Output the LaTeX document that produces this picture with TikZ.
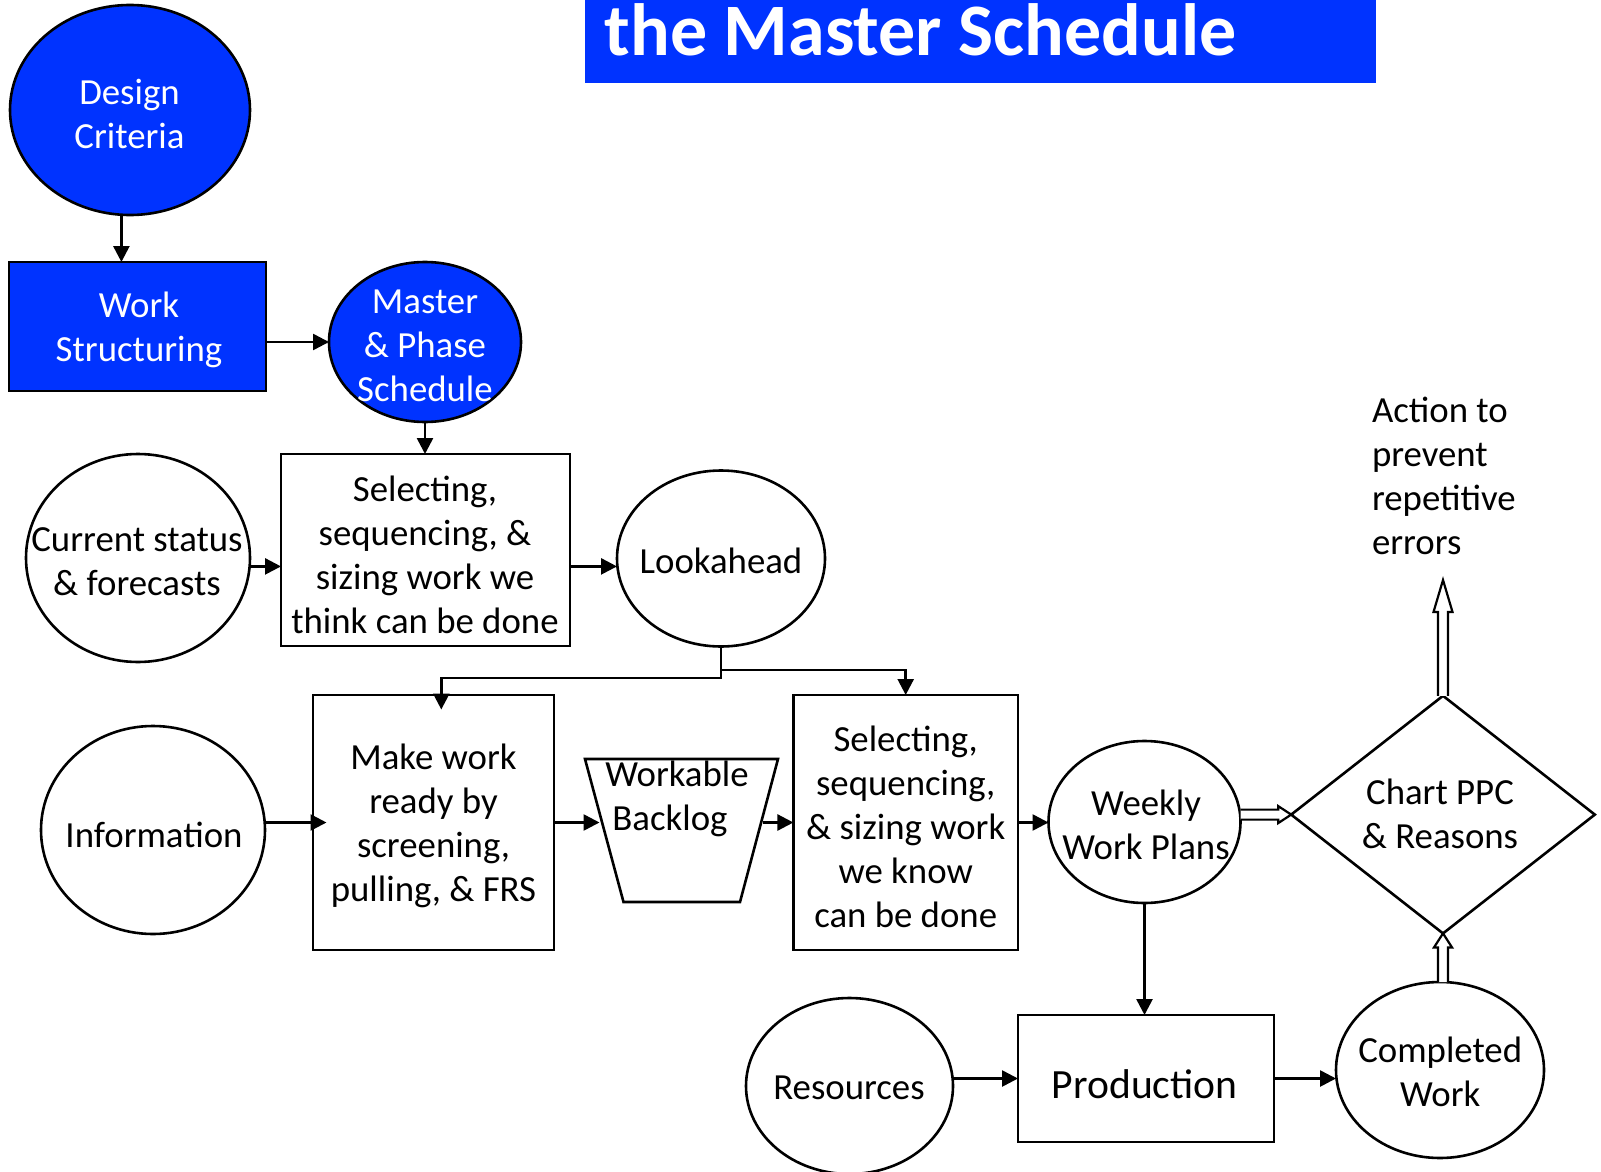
\documentclass[tikz,border=0pt]{standalone}
\usepackage{fontspec}
\setmainfont{Carlito}
\usetikzlibrary{shapes.geometric,arrows.meta,calc}
\definecolor{mblue}{RGB}{0,51,255}
\begin{document}
\begin{tikzpicture}[x=0.5pt,y=-0.5pt,
  every node/.style={inner sep=0pt, outer sep=0pt},
  shp/.style={draw=black, line width=1.3pt},
  ell/.style={shp, ellipse},
  box/.style={shp, rectangle},
  txt/.style={align=center, font=\fontsize{18.4}{22}\selectfont},
  arr/.style={line width=1.3pt, -{Triangle[length=8pt,width=8pt]}},
  hollow/.style={line width=1.1pt, fill=white, draw=black, line join=miter}
]
\useasboundingbox (0,0) rectangle (1601,1172);
% title
\fill[mblue] (585,-10) rectangle (1376,83);
\node[anchor=base west, text=white, font=\fontsize{37}{44}\selectfont\bfseries] (title) at (604.6,55.7) {the Master Schedule};
% nodes
\node[ell, fill=mblue, minimum width=120pt, minimum height=105pt] (design) at (130,110) {};
\node[txt, text=white] (designt) at (129.5,113.7) {Design\\Criteria};
\node[box, fill=mblue, minimum width=128.5pt, minimum height=64.5pt] (ws) at (137.5,326.5) {};
\node[txt, text=white] (wst) at (139,329.7) {Work\\Structuring};
\node[ell, fill=mblue, minimum width=96pt, minimum height=80pt] (master) at (425,342) {};
\node[txt, text=white] (mastert) at (425,346) {Master\\\& Phase\\Schedule};
\node[box, minimum width=144.5pt, minimum height=96pt] (box1) at (425.5,550) {};
\node[txt] (box1t) at (425,554.5) {Selecting,\\sequencing, \&\\sizing work we\\think can be done};
\node[ell, minimum width=112pt, minimum height=104pt] (cur) at (138,558) {};
\node[txt] (curt) at (137,561.5) {Current status\\\& forecasts};
\node[ell, minimum width=104pt, minimum height=88pt] (look) at (721,558.5) {};
\node[txt] (lookt) at (721,560.8) {Lookahead};
\node[box, minimum width=120.5pt, minimum height=127.5pt] (mw) at (433.5,822.5) {};
\node[txt] (mwt) at (433.5,825.5) {Make work\\ready by\\screening,\\pulling, \& FRS};
\node[ell, minimum width=112pt, minimum height=104pt] (info) at (153,830) {};
\node[txt] (infot) at (154,835) {Information};
\node[minimum width=96.5pt, minimum height=71.5pt] (wb) at (681.5,830.5) {};
\draw[shp] (wb.north west) -- (wb.north east) -- ($(wb.south east)+(-38,0)$) -- ($(wb.south west)+(38.5,0)$) -- cycle;
\node[txt] (wbt) at (677,799) {Workable\\Backlog\hspace*{7pt}};
\node[box, minimum width=112.3pt, minimum height=127.5pt] (box2) at (905.7,822.5) {};
\node[txt] (box2t) at (905.7,826.7) {Selecting,\\sequencing,\\\& sizing work\\we know\\can be done};
\node[ell, minimum width=96pt, minimum height=81pt] (weekly) at (1144.5,822) {};
\node[txt] (weeklyt) at (1146,825) {Weekly\\Work Plans};
\node[diamond, shp, minimum width=151.8pt, minimum height=118.8pt] (dia) at (1443,814.6) {};
\node[txt] (diat) at (1440,814) {Chart PPC\\\& Reasons};
\node[txt, align=left, anchor=west] (act) at (1372,475.8) {Action to\\prevent\\repetitive\\errors};
\node[box, minimum width=128pt, minimum height=63.5pt] (prod) at (1146,1078.5) {};
\node[txt, font=\fontsize{20.8}{25}\selectfont] (prodt) at (1144.7,1083.7) {Production};
\node[ell, minimum width=103.5pt, minimum height=88pt] (res) at (849.5,1086) {};
\node[txt] (rest) at (849,1087.4) {Resources};
\node[ell, minimum width=104pt, minimum height=88pt] (comp) at (1440,1070) {};
\node[txt] (compt) at (1440.2,1071.5) {Completed\\Work};
% connectors
\draw[arr] ($(design.south)+(-8.6,0)$) -- ($(design.south |- ws.north)+(-8.6,0)$);
\draw[arr] (ws.east |- master.west) -- (master.west);
\draw[arr] (master.south) -- (master.south |- box1.north);
\draw[arr] ($(cur.east)+(0,8.4)$) -- ($(cur.east -| box1.west)+(0,8.4)$);
\draw[arr] ($(box1.east)+(0,16.4)$) -- ($(box1.east -| look.west)+(0,16.4)$);
\draw[arr] (look.south) -- ++(0,31.6) -| ($(mw.north)+(7.8,14.5)$);
\draw[arr] ($(look.south)+(0,23.4)$) -| (box2.north);
\draw[arr] (info.east |- mw.west) -- ($(mw.west)+(13.5,0)$);
\draw[arr] (mw.east) -- ($(mw.east -| wb.west)+(14.5,0)$);
\draw[arr] ($(box2.west -| wb.east)+(-15,0)$) -- (box2.west);
\draw[arr] (box2.east) -- (box2.east -| weekly.west);
\draw[arr] (weekly.south) -- (weekly.south |- prod.north);
\draw[arr] (res.east |- prod.west) -- (prod.west);
\draw[arr] (prod.east) -- (prod.east -| comp.west);
% hollow arrows
\path[hollow] ($(weekly.east |- dia.west)+(0,-5)$) -- ($(dia.west)+(-13,-5)$) -- ($(dia.west)+(-13,-8.5)$) -- (dia.west) -- ($(dia.west)+(-13,8.5)$) -- ($(dia.west)+(-13,5)$) -- ($(weekly.east |- dia.west)+(0,5)$);
\coordinate (acttip) at ($(dia.north)+(0,-115.8)$);
\path[hollow] ($(dia.north)+(-5,0)$) -- ($(acttip)+(-5,32)$) -- ($(acttip)+(-9.5,32)$) -- (acttip) -- ($(acttip)+(9.5,32)$) -- ($(acttip)+(5,32)$) -- ($(dia.north)+(5,0)$);
\path[hollow] ($(dia.south |- comp.north)+(-5,0)$) -- ($(dia.south)+(-5,14)$) -- ($(dia.south)+(-9,14)$) -- (dia.south) -- ($(dia.south)+(9,14)$) -- ($(dia.south)+(5,14)$) -- ($(dia.south |- comp.north)+(5,0)$);
\end{tikzpicture}
\end{document}
